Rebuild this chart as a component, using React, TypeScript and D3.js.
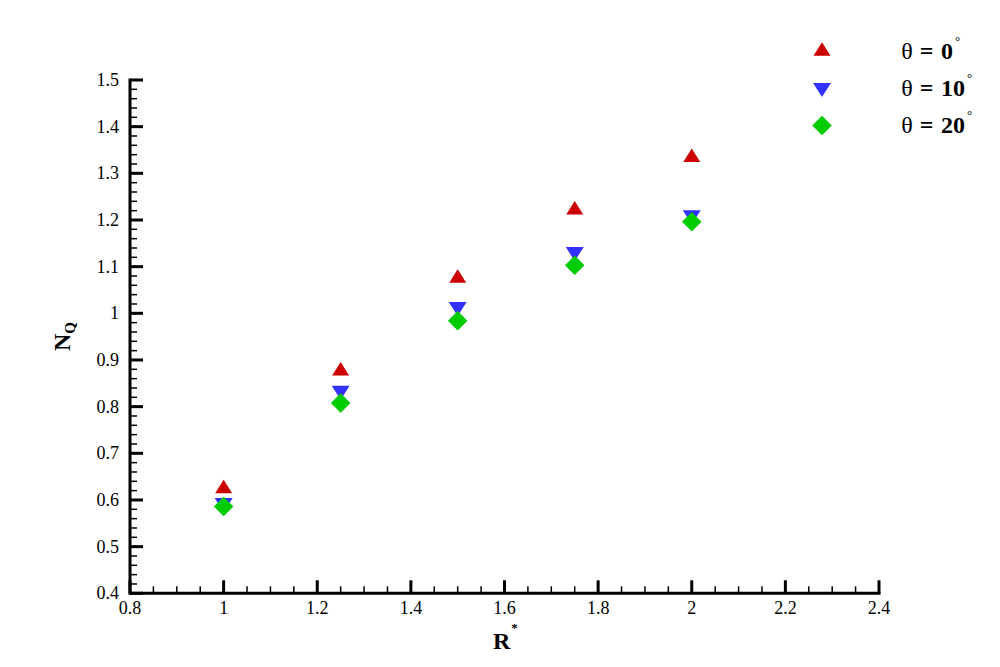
import React from "react";
import * as d3 from "d3";

const rValues = [1, 1.25, 1.5, 1.75, 2];
const theta0 = [0.629, 0.881, 1.08, 1.226, 1.339];
const theta10 = [0.589, 0.83, 1.009, 1.127, 1.206];
const theta20 = [0.586, 0.808, 0.984, 1.103, 1.196];
const xTicks = [0.8, 1, 1.2, 1.4, 1.6, 1.8, 2, 2.2, 2.4];
const yTicks = [0.4, 0.5, 0.6, 0.7, 0.8, 0.9, 1, 1.1, 1.2, 1.3, 1.4, 1.5];
const seriesLabels = ["0", "10", "20"];

const W = 1000;
const H = 667;
const FONT = '"Liberation Serif", "Times New Roman", "DejaVu Serif", serif';

const x = d3.scaleLinear().domain([0.8, 2.4]).range([130, 879]);
const y = d3.scaleLinear().domain([0.4, 1.5]).range([593.3, 80]);

function triUp(cx: number, cy: number, w = 17, h = 13.5) {
  const p = d3.path();
  p.moveTo(cx, cy - h / 2);
  p.lineTo(cx + w / 2, cy + h / 2);
  p.lineTo(cx - w / 2, cy + h / 2);
  p.closePath();
  return p.toString();
}
function triDown(cx: number, cy: number, w = 18, h = 14) {
  const p = d3.path();
  p.moveTo(cx - w / 2, cy - h / 2);
  p.lineTo(cx + w / 2, cy - h / 2);
  p.lineTo(cx, cy + h / 2);
  p.closePath();
  return p.toString();
}
function diamond(cx: number, cy: number, s = 19.5) {
  const p = d3.path();
  p.moveTo(cx, cy - s / 2);
  p.lineTo(cx + s / 2, cy);
  p.lineTo(cx, cy + s / 2);
  p.lineTo(cx - s / 2, cy);
  p.closePath();
  return p.toString();
}

const series = [
  { values: theta0, color: "#cc0000", shape: triUp },
  { values: theta10, color: "#3333ff", shape: triDown },
  { values: theta20, color: "#00cc00", shape: diamond },
];

const ts = { fontFamily: FONT };

export default function App() {
  const x0 = x(0.8);
  const y0 = y(0.4);
  const xMinor: number[] = [];
  for (let i = 0; i < xTicks.length - 1; i++) {
    for (let k = 1; k < 4; k++) xMinor.push(xTicks[i] + (k * 0.2) / 4);
  }
  const yMinor: number[] = [];
  for (let i = 0; i < yTicks.length - 1; i++) {
    for (let k = 1; k < 5; k++) yMinor.push(yTicks[i] + (k * 0.1) / 5);
  }
  const legendY = [49, 90, 125.5];
  const legendBase = [59, 96, 132.7];

  return (
    <svg
      width={W}
      height={H}
      style={{ position: "absolute", left: 0, top: 0, background: "#fff", fontFamily: FONT }}
    >
      <rect width={W} height={H} fill="#fff" />
      {/* axes */}
      <line x1={x0} x2={x(2.4) + 1.5} y1={y0} y2={y0} stroke="#000" strokeWidth={3} />
      <line x1={x0} x2={x0} y1={y(1.5) - 1.5} y2={y0 + 1.5} stroke="#000" strokeWidth={3} />
      {xTicks.map((t) => (
        <g key={"xt" + t}>
          <line x1={x(t)} x2={x(t)} y1={y0} y2={y0 - 13} stroke="#000" strokeWidth={3} />
          <text x={x(t)} y={613.5} fontSize={18} textAnchor="middle" style={ts}>
            {String(t)}
          </text>
        </g>
      ))}
      {xMinor.map((t, i) => (
        <line key={"xm" + i} x1={x(t)} x2={x(t)} y1={y0} y2={y0 - 7} stroke="#000" strokeWidth={1.5} />
      ))}
      {yTicks.map((t) => (
        <g key={"yt" + t}>
          <line x1={x0} x2={x0 + 13} y1={y(t)} y2={y(t)} stroke="#000" strokeWidth={3} />
          <text x={119} y={y(t) + 6} fontSize={18} textAnchor="end" style={ts}>
            {String(t)}
          </text>
        </g>
      ))}
      {yMinor.map((t, i) => (
        <line key={"ym" + i} x1={x0} x2={x0 + 7} y1={y(t)} y2={y(t)} stroke="#000" strokeWidth={1.5} />
      ))}
      {/* axis titles */}
      <text x={493} y={649} fontSize={24} fontWeight="bold" style={ts}>
        R
        <tspan fontSize={13} dy={-17} dx={1}>*</tspan>
      </text>
      <text transform="translate(70,351) rotate(-90)" fontSize={24} fontWeight="bold" style={ts}>
        N
        <tspan fontSize={15} dy={5}>Q</tspan>
      </text>
      {/* data */}
      {series.map((s, si) => (
        <g key={"s" + si}>
          {s.values.map((v, i) => (
            <path key={i} d={s.shape(x(rValues[i]), y(v))} fill={s.color} />
          ))}
        </g>
      ))}
      {/* legend */}
      {series.map((s, si) => (
        <g key={"l" + si}>
          <path d={s.shape(822, legendY[si])} fill={s.color} />
          <text x={907} y={legendBase[si]} fontSize={24} textAnchor="middle" style={ts}>
            θ
          </text>
          <text x={926.5} y={legendBase[si]} fontSize={24} fontWeight="bold" textAnchor="middle" style={ts}>
            =
          </text>
          <text x={941} y={legendBase[si]} fontSize={24} fontWeight="bold" style={ts}>
            {seriesLabels[si]}
            <tspan fontSize={13} fontWeight="normal" dy={-14} dx={2}>°</tspan>
          </text>
        </g>
      ))}
    </svg>
  );
}
